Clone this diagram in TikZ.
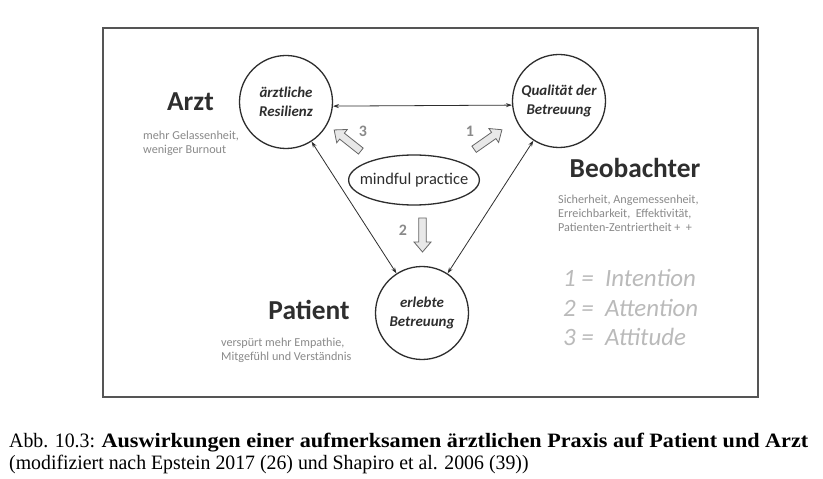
\documentclass[tikz,border=0pt]{standalone}
\usepackage{fontspec}
\setmainfont{Carlito}
\newfontfamily\capfont{Liberation Serif}[FakeStretch=0.97]
\newfontfamily\capbold{Liberation Serif Bold}[FakeStretch=1.085]
\usetikzlibrary{arrows.meta,shapes.geometric}
\definecolor{ink}{HTML}{2E2E2E}
\definecolor{subgray}{HTML}{8A8A8A}
\definecolor{leggray}{HTML}{BABABA}
\definecolor{framegray}{HTML}{555555}
\begin{document}
\begin{tikzpicture}[x=1bp,y=-1bp,
 circ/.style={circle,draw=ink,line width=1.3bp,minimum size=93bp,inner sep=0pt,align=center,font=\fontsize{15}{19}\selectfont\bfseries\itshape,text=ink},
 conn/.style={<->,>={Stealth[length=6bp,width=4bp]},draw=ink,line width=0.8bp},
 head/.style={font=\fontsize{27.5}{30}\selectfont\bfseries,text=ink,inner sep=0pt},
 sub/.style={font=\fontsize{12.2}{14}\selectfont,text=subgray,align=left,inner sep=0pt},
 leg/.style={font=\fontsize{25}{29}\selectfont\itshape,text=leggray,anchor=west,inner sep=0pt},
 num/.style={font=\fontsize{16}{18}\selectfont\bfseries,text=subgray},
 blk/.style={draw=gray!80!black,fill=gray!18,line width=0.8bp,line join=miter},
 captext/.style={font=\capfont\fontsize{20.5}{22}\selectfont,anchor=base west,inner sep=0pt},
 blockarr/.pic={\draw[blk] (-17,-3.8) -- (7,-3.8) -- (7,-8.5) -- (17,0) -- (7,8.5) -- (7,3.8) -- (-17,3.8) -- cycle;}
]
\useasboundingbox (0,0) rectangle (823,479);
\fill[white] (0,0) rectangle (823,479);
\draw[framegray,line width=1.5bp] (103,28) rectangle (758,397);

\node[circ] (L) at (286,102) {ärztliche\\Resilienz};
\node[circ] (R) at (559,101) {Qualität der\\Betreuung};
\node[circ] (B) at (422,313) {erlebte\\Betreuung};
\node[ellipse,draw=ink,line width=1.3bp,minimum width=128bp,minimum height=50bp,inner xsep=-8bp,inner ysep=0pt,font=\fontsize{16.5}{18}\selectfont,text=ink] (M) at (414,180) {mindful practice};

\draw[conn] (L.-5) -- (R.185);
\draw[conn] (L) -- (B);
\draw[conn] (B) -- (R);

\pic[rotate=141.6] at (347.5,140.5) {blockarr};
\pic[rotate=35] at (488,139.5) {blockarr};
\pic[rotate=-90] at (422.5,235) {blockarr};
\node[num] (n3) at (363,131) {3};
\node[num] (n1) at (470,131) {1};
\node[num] (n2) at (403,230) {2};

\node[head,anchor=base] (arzt) at (190.5,111) {Arzt};
\node[sub,anchor=north west] (arztsub) at (143,131) {mehr Gelassenheit,\\weniger Burnout};
\node[head,anchor=base] (beob) at (635,178) {Beobachter};
\node[sub,anchor=north west] (beobsub) at (558,195) {Sicherheit, Angemessenheit,\\Erreichbarkeit,\ \ Effektivität,\\Patienten-Zentriertheit +\ \ +};
\node[head,anchor=base] (pat) at (309,320) {Patient};
\node[sub,anchor=north west] (patsub) at (221,338) {verspürt mehr Empathie,\\Mitgefühl und Verständnis};

\node[leg] (l1) at (563,278) {1 =\ \ Intention};
\node[leg] (l2) at (563,308) {2 =\ \ Attention};
\node[leg] (l3) at (563,337) {3 =\ \ Attitude};

\node[captext] (c1) at (9,447) {Abb. 10.3: {\capbold Auswirkungen einer aufmerksamen ärztlichen Praxis auf Patient und Arzt}};
\node[captext] (c2) at (9,469) {(modifiziert nach Epstein 2017 (26) und Shapiro et al. 2006 (39))};
\end{tikzpicture}
\end{document}
